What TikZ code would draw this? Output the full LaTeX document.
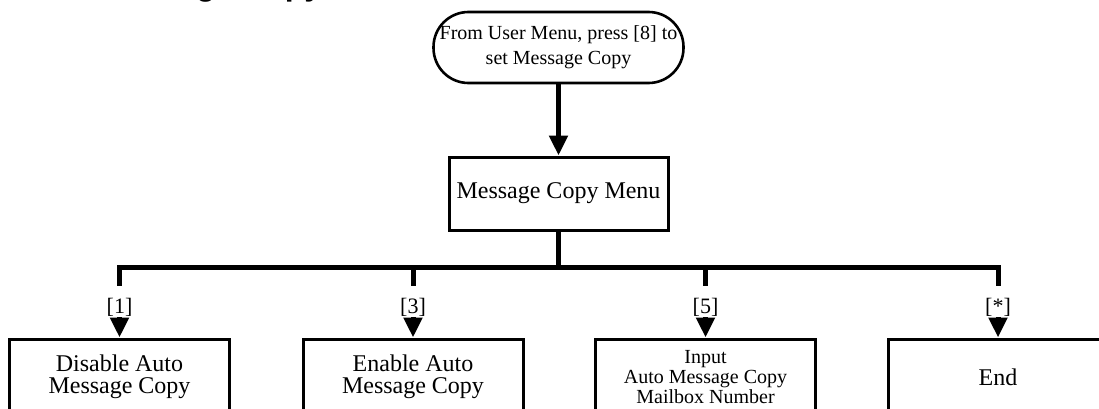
\documentclass[tikz,border=0pt]{standalone}
\usepackage{fontspec}
\setmainfont{Liberation Serif}
\newfontfamily\titlefont{Liberation Sans}
\usetikzlibrary{arrows.meta}
\begin{document}
\begin{tikzpicture}[x=1pt,y=-1pt,
  term/.style={draw, line width=2.6pt, rounded corners=35pt, minimum width=250pt, minimum height=71pt, inner sep=0pt, align=center, font=\fontsize{20}{25}\selectfont},
  menubox/.style={draw, line width=3pt, minimum width=219pt, minimum height=73pt, inner sep=0pt, font=\fontsize{24}{22}\selectfont},
  optbox/.style={draw, line width=3pt, minimum width=220pt, minimum height=76pt, inner sep=0pt, align=center, font=\fontsize{24}{22}\selectfont},
  flow/.style={line width=5pt, -{Triangle[width=18pt,length=20pt]}},
  bus/.style={line width=5pt},
  key/.style={inner sep=1pt, font=\fontsize{22}{22}\selectfont}
]
\useasboundingbox (0,0) rectangle (1099,409);

\node[anchor=base west, inner sep=0pt, font=\titlefont\bfseries\fontsize{32}{32}\selectfont] (title) at (98,-4) {Message Copy};

\node[term] (start) at (558.5,47.5) {From User Menu, press [8] to\\set Message Copy};
\node[menubox] (menu) at (558.5,193.5) {Message Copy Menu};

\node[optbox] (b1) at (119.5,377) {Disable Auto\\Message Copy};
\node[optbox] (b3) at (413,377) {Enable Auto\\Message Copy};
\node[optbox, font=\fontsize{20}{20}\selectfont] (b5) at (705.5,377) {Input\\Auto Message Copy\\Mailbox Number};
\node[optbox] (b8) at (998,377) {End};

\coordinate (k0) at (558.5,267);
\coordinate (k1) at (119.5,267);
\coordinate (k3) at (413,267);
\coordinate (k5) at (705.5,267);
\coordinate (k8) at (998,267);

\node[key] (l1) at (119.5,307) {[1]};
\node[key] (l3) at (413,307) {[3]};
\node[key] (l5) at (705.5,307) {[5]};
\node[key] (l8) at (998,307) {[*]};

\draw[flow] (start) -- (menu);
\draw[bus] (menu) -- (k0);
\draw[bus, line cap=rect] (k1) -- (k8);

\foreach \i in {1,3,5,8} {
  \draw[bus, shorten >=11pt] (k\i) -- (l\i.north);
  \draw[flow] (l\i) -- (b\i.north);
}
\end{tikzpicture}
\end{document}
